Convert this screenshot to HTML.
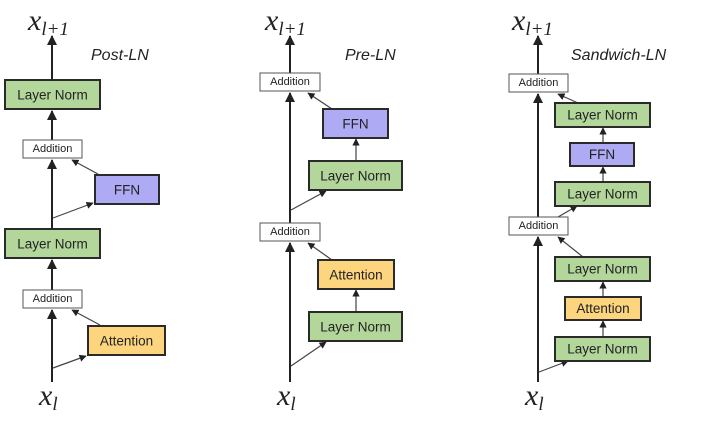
<!DOCTYPE html>
<html><head><meta charset="utf-8"><style>
html,body{margin:0;padding:0;background:#fff;}
svg{display:block}
.b{font-family:"Liberation Sans",sans-serif;font-size:13.5px;fill:#222;text-anchor:middle;dominant-baseline:central}
.s{font-family:"Liberation Sans",sans-serif;font-size:11px;fill:#222;text-anchor:middle;dominant-baseline:central}
.lab{font-family:"Liberation Sans",sans-serif;font-size:16px;font-style:italic;fill:#222}
.x{font-family:"Liberation Serif",serif;font-style:italic;font-size:30px;fill:#222}
.xs{font-family:"Liberation Serif",serif;font-size:19px;fill:#222}
.g{fill:#b3d69b;stroke:#2a2a2a;stroke-width:2}
.f{fill:#aeaaf4;stroke:#2a2a2a;stroke-width:2}
.a{fill:#fdd57e;stroke:#2a2a2a;stroke-width:2}
.w{fill:#fff;stroke:#555;stroke-width:1}
.l{stroke:#222;stroke-width:2;fill:none}
.t{stroke:#444;stroke-width:1.2;fill:none}
</style></head><body>
<svg width="712" height="425" viewBox="0 0 712 425" xmlns="http://www.w3.org/2000/svg">
<defs>
<marker id="m" viewBox="0 0 10 10" refX="9" refY="5" markerWidth="5" markerHeight="5" orient="auto"><path d="M0,0L10,5L0,10z" fill="#222"/></marker>
<marker id="n" viewBox="0 0 10 10" refX="9" refY="5" markerWidth="6" markerHeight="6" orient="auto"><path d="M0,0L10,5L0,10z" fill="#222"/></marker>
</defs>

<!-- Post-LN -->
<text class="x" x="28" y="30">x<tspan class="xs" dy="5">l+1</tspan></text>
<text class="lab" x="91" y="60">Post-LN</text>
<line class="l" x1="52" y1="382" x2="52" y2="310" marker-end="url(#m)"/>
<line class="l" x1="52" y1="290" x2="52" y2="260" marker-end="url(#m)"/>
<line class="l" x1="52" y1="229" x2="52" y2="160" marker-end="url(#m)"/>
<line class="l" x1="52" y1="140" x2="52" y2="111" marker-end="url(#m)"/>
<line class="l" x1="52" y1="80" x2="52" y2="36" marker-end="url(#m)"/>
<line class="t" x1="53" y1="368" x2="86" y2="356" marker-end="url(#n)"/>
<line class="t" x1="100" y1="325" x2="72" y2="310" marker-end="url(#n)"/>
<line class="t" x1="53" y1="218" x2="93" y2="203" marker-end="url(#n)"/>
<line class="t" x1="98" y1="174" x2="72" y2="160" marker-end="url(#n)"/>
<rect class="g" x="5" y="80" width="95" height="29"/><text class="b" x="52.5" y="95">Layer Norm</text>
<rect class="w" x="23" y="140" width="59" height="18"/><text class="s" x="52.5" y="149">Addition</text>
<rect class="f" x="95" y="175" width="64" height="29"/><text class="b" x="127" y="190">FFN</text>
<rect class="g" x="5" y="229" width="95" height="29"/><text class="b" x="52.5" y="244">Layer Norm</text>
<rect class="w" x="23" y="290" width="59" height="18"/><text class="s" x="52.5" y="299">Addition</text>
<rect class="a" x="88" y="326" width="77" height="29"/><text class="b" x="126.5" y="341">Attention</text>
<text class="x" x="39" y="405">x<tspan class="xs" dy="5">l</tspan></text>

<!-- Pre-LN -->
<text class="x" x="265" y="30">x<tspan class="xs" dy="5">l+1</tspan></text>
<text class="lab" x="345" y="60">Pre-LN</text>
<line class="l" x1="290" y1="382" x2="290" y2="243" marker-end="url(#m)"/>
<line class="l" x1="290" y1="223" x2="290" y2="93" marker-end="url(#m)"/>
<line class="l" x1="290" y1="73" x2="290" y2="36" marker-end="url(#m)"/>
<line class="t" x1="291" y1="366" x2="326" y2="342" marker-end="url(#n)"/>
<line class="t" x1="356" y1="312" x2="356" y2="290" marker-end="url(#n)"/>
<line class="t" x1="332" y1="260" x2="308" y2="243" marker-end="url(#n)"/>
<line class="t" x1="291" y1="210" x2="326" y2="191" marker-end="url(#n)"/>
<line class="t" x1="356" y1="161" x2="356" y2="139" marker-end="url(#n)"/>
<line class="t" x1="332" y1="109" x2="308" y2="93" marker-end="url(#n)"/>
<rect class="w" x="260" y="73" width="60" height="18"/><text class="s" x="290" y="82">Addition</text>
<rect class="f" x="323" y="109" width="65" height="29"/><text class="b" x="355.5" y="124">FFN</text>
<rect class="g" x="309" y="161" width="93" height="29"/><text class="b" x="355.5" y="176">Layer Norm</text>
<rect class="w" x="260" y="223" width="60" height="18"/><text class="s" x="290" y="232">Addition</text>
<rect class="a" x="318" y="260" width="76" height="29"/><text class="b" x="356" y="275">Attention</text>
<rect class="g" x="309" y="312" width="93" height="29"/><text class="b" x="355.5" y="327">Layer Norm</text>
<text class="x" x="277" y="405">x<tspan class="xs" dy="5">l</tspan></text>

<!-- Sandwich-LN -->
<text class="x" x="512" y="30">x<tspan class="xs" dy="5">l+1</tspan></text>
<text class="lab" x="571" y="60">Sandwich-LN</text>
<line class="l" x1="538" y1="382" x2="538" y2="237" marker-end="url(#m)"/>
<line class="l" x1="538" y1="217" x2="538" y2="94" marker-end="url(#m)"/>
<line class="l" x1="538" y1="74" x2="538" y2="36" marker-end="url(#m)"/>
<line class="t" x1="539" y1="372" x2="568" y2="361" marker-end="url(#n)"/>
<line class="t" x1="603" y1="337" x2="603" y2="321" marker-end="url(#n)"/>
<line class="t" x1="603" y1="297" x2="603" y2="282" marker-end="url(#n)"/>
<line class="t" x1="583" y1="257" x2="558" y2="237" marker-end="url(#n)"/>
<line class="t" x1="558" y1="217" x2="577" y2="206" marker-end="url(#n)"/>
<line class="t" x1="603" y1="182" x2="603" y2="167" marker-end="url(#n)"/>
<line class="t" x1="603" y1="143" x2="603" y2="128" marker-end="url(#n)"/>
<line class="t" x1="578" y1="103" x2="558" y2="94" marker-end="url(#n)"/>
<rect class="w" x="509" y="74" width="59" height="18"/><text class="s" x="538.5" y="83">Addition</text>
<rect class="g" x="555" y="103" width="95" height="24"/><text class="b" x="602.5" y="115">Layer Norm</text>
<rect class="f" x="570" y="143" width="64" height="23"/><text class="b" x="602" y="154.5">FFN</text>
<rect class="g" x="555" y="182" width="95" height="24"/><text class="b" x="602.5" y="194">Layer Norm</text>
<rect class="w" x="509" y="217" width="59" height="18"/><text class="s" x="538.5" y="226">Addition</text>
<rect class="g" x="555" y="257" width="95" height="24"/><text class="b" x="602.5" y="269">Layer Norm</text>
<rect class="a" x="565" y="297" width="76" height="23"/><text class="b" x="603" y="308.5">Attention</text>
<rect class="g" x="555" y="337" width="95" height="24"/><text class="b" x="602.5" y="349">Layer Norm</text>
<text class="x" x="525" y="405">x<tspan class="xs" dy="5">l</tspan></text>
</svg>
</body></html>
